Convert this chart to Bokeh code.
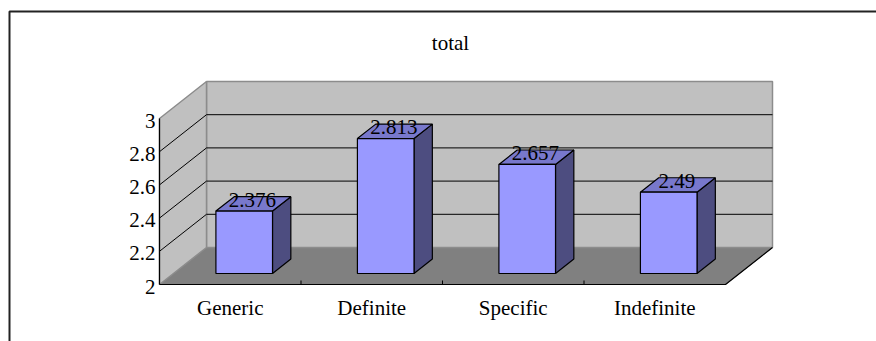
from bokeh.plotting import figure
from bokeh.models import Range1d
from bokeh.core.properties import value
from bokeh.embed import file_html
from bokeh.resources import INLINE

# ---- data ----
categories = ["Generic", "Definite", "Specific", "Indefinite"]
values = [2.376, 2.813, 2.657, 2.49]
value_labels = ["2.376", "2.813", "2.657", "2.49"]
y_ticks = [2, 2.2, 2.4, 2.6, 2.8, 3]
y_tick_labels = ["2", "2.2", "2.4", "2.6", "2.8", "3"]
title = "total"

# ---- layout (pixel geometry of the 3D frame) ----
W, H = 876, 341
X0PX, Y0PX = 159, 284          # front-left corner of floor (value 2, category 0)
PX_PER_CAT = 141.5
PX_PER_VAL = 166.0
VMIN, VMAX = 2.0, 3.0
NCAT = len(categories)

def px2x(px):
    return (px - X0PX) / PX_PER_CAT

def py2y(py):
    return VMIN + (Y0PX - py) / PX_PER_VAL

DX = 47 / PX_PER_CAT   # full depth offset in x units
DY = 37 / PX_PER_VAL   # full depth offset in value units
Z0 = 0.297             # bar front depth fraction
ZD = 0.39              # bar depth fraction
BAR_L, BAR_R = 0.3, 0.7

FONT = value("'Liberation Serif', 'Times New Roman', Times, serif")
FS = "21px"

p = figure(width=W, height=H, output_backend="svg", toolbar_location=None,
           x_range=Range1d(px2x(0), px2x(W)), y_range=Range1d(py2y(H), py2y(0)),
           x_axis_type=None, y_axis_type=None, min_border=0)
p.grid.visible = False
p.outline_line_color = None
p.background_fill_color = "white"
p.border_fill_color = "white"

# floor
p.patch([0, NCAT, NCAT + DX, DX], [VMIN, VMIN, VMIN + DY, VMIN + DY],
        fill_color="#808080", line_color="#808080", line_width=1)
# back wall
p.patch([DX, NCAT + DX, NCAT + DX, DX], [VMIN + DY, VMIN + DY, VMAX + DY, VMAX + DY],
        fill_color="#C0C0C0", line_color="#8C8C8C", line_width=1.5)
# left wall
p.patch([0, DX, DX, 0], [VMIN, VMIN + DY, VMAX + DY, VMAX],
        fill_color="#C0C0C0", line_color="#8C8C8C", line_width=1.5)

# gridlines (back + left wall diagonals)
for t in y_ticks[1:-1]:
    p.line([0, DX, NCAT + DX], [t, t + DY, t + DY], line_color="black", line_width=1)

# front edges
p.line([0, 0], [VMAX, VMIN], line_color="black", line_width=1.2)
p.line([0, NCAT, NCAT + DX], [VMIN, VMIN, VMIN + DY], line_color="black", line_width=1.2)
# category ticks on the front edge
tick_h = 4 / PX_PER_VAL
p.segment(x0=list(range(1, NCAT)), y0=[VMIN] * (NCAT - 1),
          x1=list(range(1, NCAT)), y1=[VMIN + tick_h] * (NCAT - 1),
          line_color="black", line_width=1)

# bars
for i, v in enumerate(values):
    fx0 = i + BAR_L + Z0 * DX
    fx1 = i + BAR_R + Z0 * DX
    by = VMIN + Z0 * DY
    ty = v + Z0 * DY
    ddx, ddy = ZD * DX, ZD * DY
    # side
    p.patch([fx1, fx1 + ddx, fx1 + ddx, fx1], [by, by + ddy, ty + ddy, ty],
            fill_color="#4D4D80", line_color="black", line_width=1.2)
    # top
    p.patch([fx0, fx1, fx1 + ddx, fx0 + ddx], [ty, ty, ty + ddy, ty + ddy],
            fill_color="#7878CC", line_color="black", line_width=1.2)
    # front
    p.patch([fx0, fx1, fx1, fx0], [by, by, ty, ty],
            fill_color="#9999FF", line_color="black", line_width=1.2)

# value labels
lx = [i + (BAR_L + BAR_R) / 2 + Z0 * DX + ZD * DX / 2 - 1 / PX_PER_CAT for i in range(NCAT)]
ly = [v + Z0 * DY + ZD * DY / 2 + 4 / PX_PER_VAL for v in values]
p.text(x=lx, y=ly, text=value_labels, text_font=FONT, text_font_size=FS,
       text_align="center", text_baseline="middle", text_color="black")

# y tick labels
p.text(x=[px2x(155)] * len(y_ticks), y=[t - 2 / PX_PER_VAL for t in y_ticks],
       text=y_tick_labels, text_font=FONT, text_font_size=FS,
       text_align="right", text_baseline="middle", text_color="black")

# category labels
p.text(x=[i + 0.5 for i in range(NCAT)], y=[py2y(307)] * NCAT, text=categories,
       text_font=FONT, text_font_size=FS, text_align="center",
       text_baseline="middle", text_color="black")

# title
p.text(x=[px2x(450)], y=[py2y(42)], text=[title], text_font=FONT, text_font_size=FS,
       text_align="center", text_baseline="middle", text_color="black")

# chart-area border (extends past the window on the right and bottom)
p.line([px2x(9), px2x(9), px2x(W + 5)], [py2y(H + 5), py2y(11), py2y(11)],
       line_color="#222222", line_width=2)

open("out.html", "w").write(file_html(p, INLINE))
